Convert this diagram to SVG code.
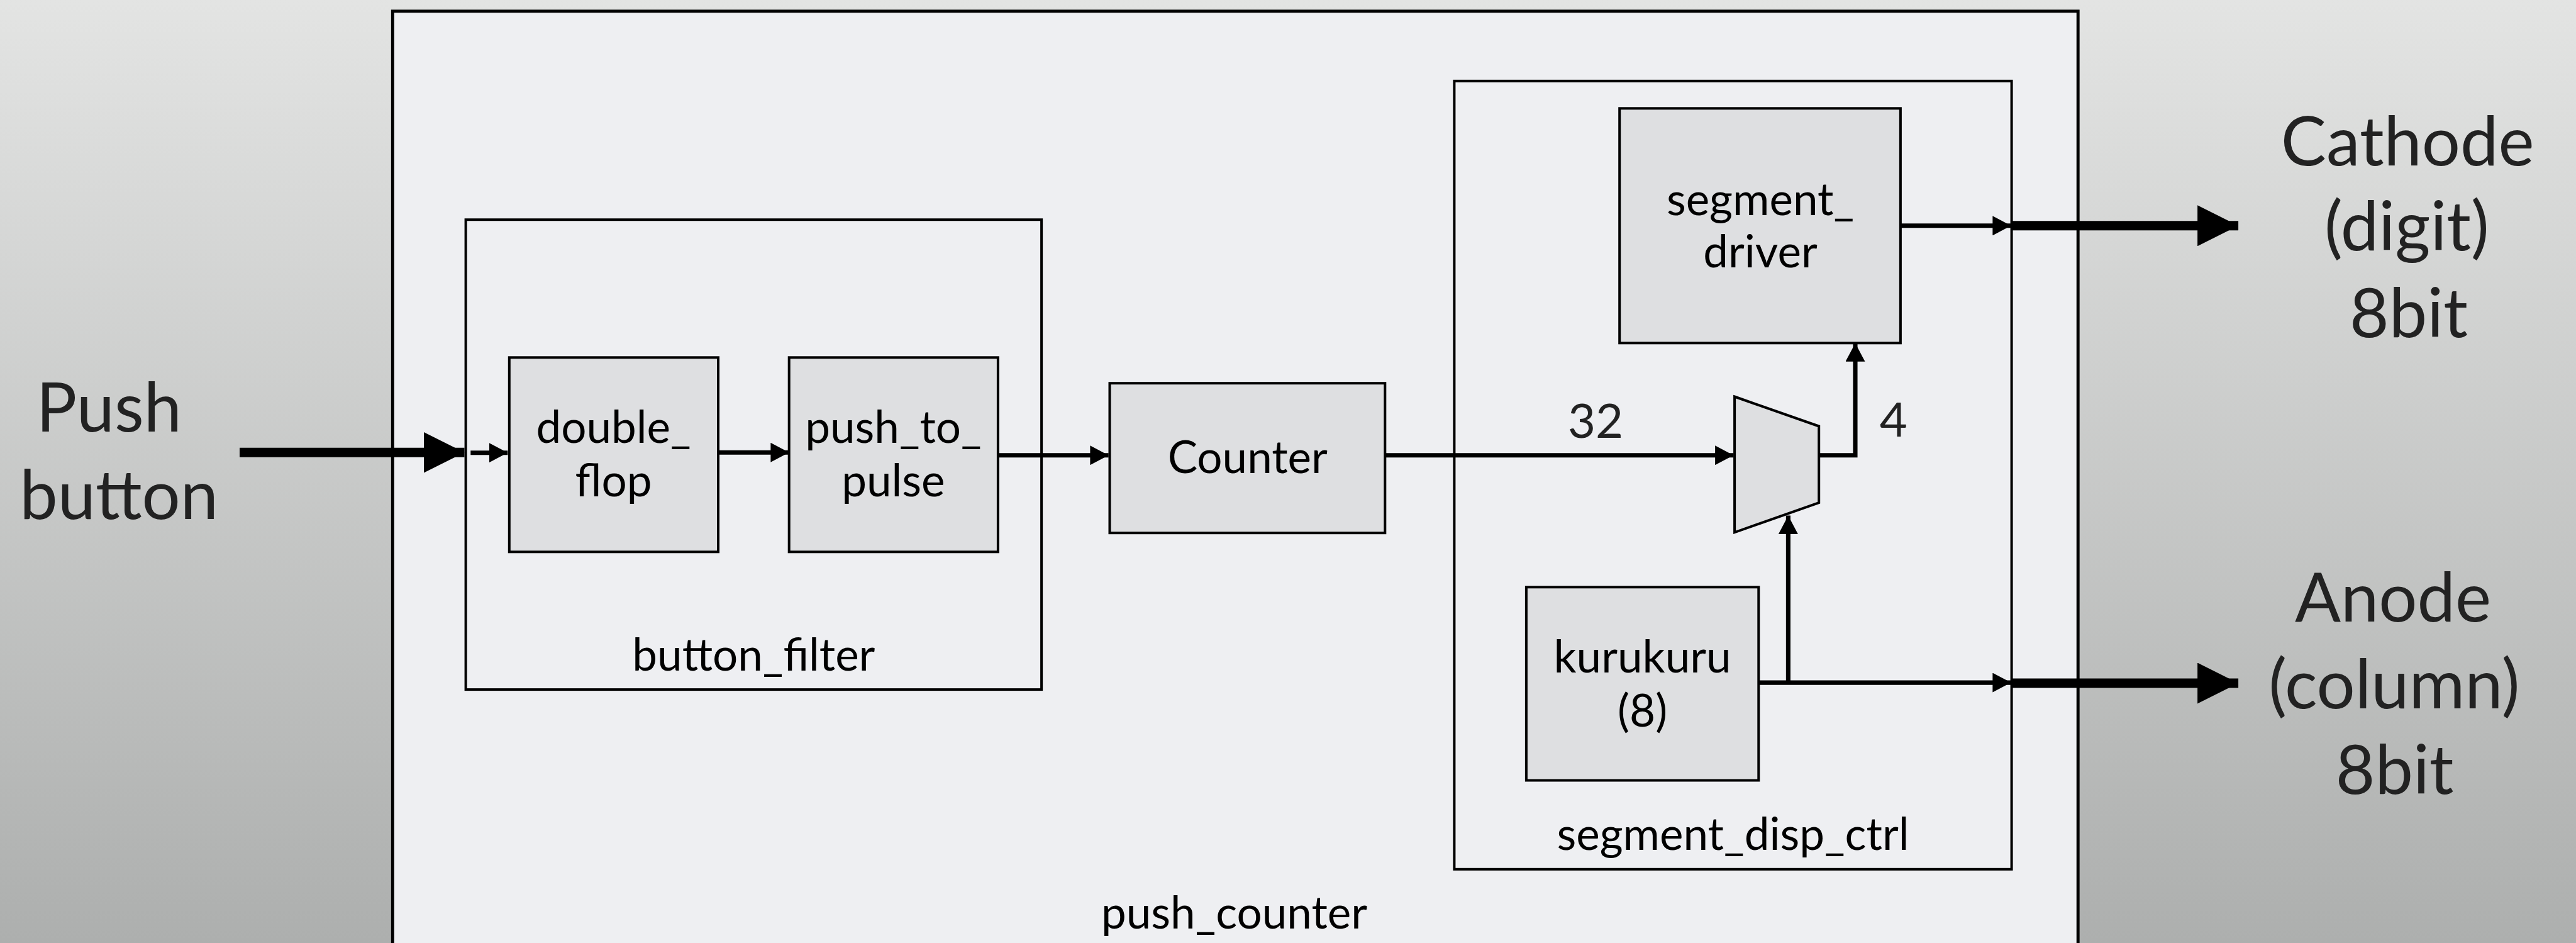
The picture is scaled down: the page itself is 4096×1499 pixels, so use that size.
<svg xmlns="http://www.w3.org/2000/svg" width="4096" height="1499" viewBox="0 0 4096 1499">
  <defs>
    <linearGradient id="bg" x1="0" y1="0" x2="0" y2="1">
      <stop offset="0" stop-color="#e3e4e3"/>
      <stop offset="1" stop-color="#adafae"/>
    </linearGradient>
    <marker id="ah" viewBox="0 0 29.3 31" refX="29.3" refY="15.5" markerWidth="29.3" markerHeight="31" markerUnits="userSpaceOnUse" orient="auto">
      <path d="M0,0 L29.3,15.5 L0,31 Z" fill="#000"/>
    </marker>
    <marker id="bigah" viewBox="0 0 65 65" refX="65" refY="32.5" markerWidth="65" markerHeight="65" markerUnits="userSpaceOnUse" orient="auto">
      <path d="M0,0 L65,32.5 L0,65 Z" fill="#000"/>
    </marker>
  </defs>
  <style>
    .frame { fill: #eeeff2; stroke: #000; stroke-width: 4; }
    .outer { fill: #eeeff2; stroke: #000; stroke-width: 4.9; }
    .block { fill: #dedfe1; stroke: #000; stroke-width: 4; }
    .wire { fill: none; stroke: #000; stroke-width: 7.1; }
    .bus { fill: none; stroke: #000; stroke-width: 15.1; }
    .lbl { font-family: Lato, "Open Sans", "Liberation Sans", sans-serif; font-size: 71px; fill: #000; text-anchor: middle; }
    .num { font-family: Lato, "Open Sans", "Liberation Sans", sans-serif; font-size: 76px; fill: #222; text-anchor: middle; }
    .ext { font-family: Lato, "Open Sans", "Liberation Sans", sans-serif; font-size: 108px; fill: #222; text-anchor: middle; }
  </style>

  <rect x="0" y="0" width="4096" height="1499" fill="url(#bg)"/>

  <g id="push_counter">
    <rect class="outer" x="624.3" y="17.8" width="2679.9" height="1510"/>
    <text class="lbl" x="1962.5" y="1475.5">push_counter</text>
  </g>

  <g id="button_filter">
    <rect class="frame" x="740.6" y="349.2" width="915.5" height="746.9"/>
    <text class="lbl" x="1198.4" y="1065.6">button_filter</text>
  </g>

  <g id="double_flop">
    <rect class="block" x="809.8" y="568.3" width="332.2" height="309"/>
    <text class="lbl" x="975.5" y="704.2">double_</text>
    <text class="lbl" x="975.5" y="788.5">flop</text>
  </g>

  <g id="push_to_pulse">
    <rect class="block" x="1254.7" y="568.3" width="332.2" height="309"/>
    <text class="lbl" x="1420.4" y="704.2">push_to_</text>
    <text class="lbl" x="1420.4" y="788.5">pulse</text>
  </g>

  <g id="counter">
    <rect class="block" x="1764.5" y="609.2" width="437.8" height="238"/>
    <text class="lbl" x="1983.8" y="752.1">Counter</text>
  </g>

  <g id="segment_disp_ctrl">
    <rect class="frame" x="2312.4" y="128.8" width="886.2" height="1253"/>
    <text class="lbl" x="2755.5" y="1350.6">segment_disp_ctrl</text>
  </g>

  <g id="segment_driver">
    <rect class="block" x="2575.2" y="172.3" width="446.7" height="373"/>
    <text class="lbl" x="2799" y="341.9">segment_</text>
    <text class="lbl" x="2799" y="425.4">driver</text>
  </g>

  <g id="kurukuru">
    <rect class="block" x="2426.9" y="933.3" width="369.4" height="307.2"/>
    <text class="lbl" x="2611.6" y="1069.2">kurukuru</text>
    <text class="lbl" x="2611.6" y="1154.9">(8)</text>
  </g>

  <g id="mux">
    <polygon class="block" points="2758.1,630.5 2892.2,677.5 2892.2,799.2 2758.1,846.3"/>
  </g>

  <g id="connectors">
    <line class="bus" x1="381" y1="719.3" x2="738.5" y2="719.3" marker-end="url(#bigah)"/>
    <line class="wire" x1="748.3" y1="719.7" x2="807.2" y2="719.7" marker-end="url(#ah)"/>
    <line class="wire" x1="1142" y1="719.3" x2="1254.7" y2="719.3" marker-end="url(#ah)"/>
    <line class="wire" x1="1586.9" y1="723.7" x2="1762.7" y2="723.7" marker-end="url(#ah)"/>
    <line class="wire" x1="2202.2" y1="723.7" x2="2756.4" y2="723.7" marker-end="url(#ah)"/>
    <polyline class="wire" points="2893.1,723.7 2950,723.7 2950,545.4" marker-end="url(#ah)"/>
    <line class="wire" x1="3021.9" y1="358.8" x2="3197.7" y2="358.8" marker-end="url(#ah)"/>
    <line class="wire" x1="2796.3" y1="1085.1" x2="3197.7" y2="1085.1" marker-end="url(#ah)"/>
    <line class="wire" x1="2843.4" y1="1085.1" x2="2843.4" y2="819.6" marker-end="url(#ah)"/>
    <line class="bus" x1="3199.5" y1="358.8" x2="3559.1" y2="358.8" marker-end="url(#bigah)"/>
    <line class="bus" x1="3199.5" y1="1086" x2="3559.1" y2="1086" marker-end="url(#bigah)"/>
  </g>

  <g id="labels">
    <text class="num" x="2537" y="696.2">32</text>
    <text class="num" x="3010.8" y="694.4">4</text>
    <text class="ext" x="173.2" y="686.4">Push</text>
    <text class="ext" x="189.1" y="825">button</text>
    <text class="ext" x="3828.2" y="262.8">Cathode</text>
    <text class="ext" x="3827" y="397.8">(digit)</text>
    <text class="ext" x="3830" y="536.4">8bit</text>
    <text class="ext" x="3805" y="988.3">Anode</text>
    <text class="ext" x="3806.9" y="1126">(column)</text>
    <text class="ext" x="3807.7" y="1261.8">8bit</text>
  </g>
</svg>
